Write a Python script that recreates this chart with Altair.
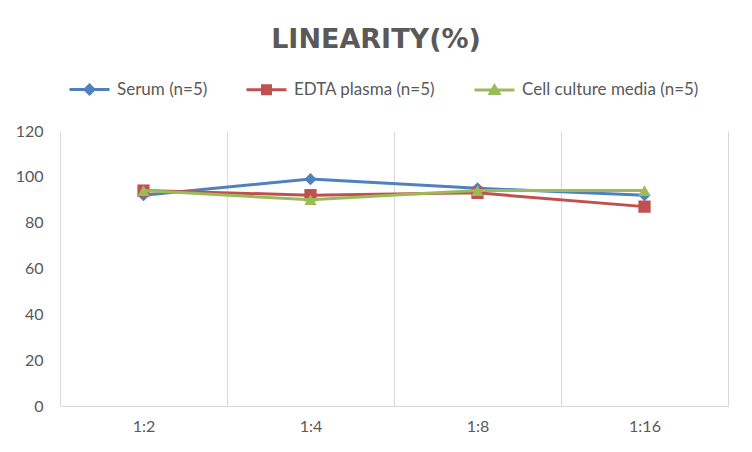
import altair as alt
import pandas as pd

cats = ["1:2", "1:4", "1:8", "1:16"]
series = ["Serum (n=5)", "EDTA plasma (n=5)", "Cell culture media (n=5)"]
serum = [92, 99, 95, 92]
edta = [94, 92, 93, 87]
cell = [94, 90, 94, 94]
colors = ["#4F81BD", "#C0504D", "#9BBB59"]
shapes = ["diamond", "square", "triangle-up"]
# legend symbols: a line segment with a (stroke-filled) marker in the middle
legend_shapes = [
    "M-1,0L1,0M0,-0.22L0.22,0L0,0.22L-0.22,0ZM0,-0.08L0.08,0L0,0.08L-0.08,0Z",
    "M-1,0L1,0M-0.2,-0.2L0.2,-0.2L0.2,0.2L-0.2,0.2ZM-0.07,-0.07L0.07,-0.07L0.07,0.07L-0.07,0.07Z",
    "M-1,0L1,0M0,-0.2L0.22,0.17L-0.22,0.17ZM0,-0.05L0.08,0.09L-0.08,0.09Z",
]

rows = []
for name, vals in zip(series, [serum, edta, cell]):
    for c, v in zip(cats, vals):
        rows.append({"dilution": c, "value": v, "series": name})
df = pd.DataFrame(rows)

FONT = "Lato"
GRAY = "#595959"

x = alt.X(
    "dilution:N", sort=cats, title=None,
    scale=alt.Scale(paddingInner=0, paddingOuter=0),
    axis=alt.Axis(labelAngle=0, ticks=False, grid=True, tickBand="extent",
                  gridColor="#d9d9d9", domainColor="#d9d9d9", labelColor=GRAY,
                  labelFontSize=16, labelPadding=12, labelFont=FONT),
)
y = alt.Y(
    "value:Q", title=None,
    scale=alt.Scale(domain=[0, 120]),
    axis=alt.Axis(values=[0, 20, 40, 60, 80, 100, 120], grid=False, domain=False,
                  ticks=False, labelPadding=17, labelFontSize=16, labelColor=GRAY,
                  labelFont=FONT),
)

color_scale = alt.Scale(domain=series, range=colors)

series_layers = []
for name, shp, col in zip(series, shapes, colors):
    sub = alt.Chart(df).transform_filter(alt.datum.series == name)
    series_layers.append(sub.mark_line(strokeWidth=3, color=col).encode(x=x, y=y))
    series_layers.append(
        sub.mark_point(filled=True, opacity=1, size=150, shape=shp, color=col)
        .encode(x=x, y=y)
    )

legend = alt.Legend(
    title=None, orient="none", legendX=8, legendY=-63, direction="horizontal",
    columns=3, columnPadding=32, labelOffset=6, symbolSize=1600, padding=0,
    symbolStrokeWidth=3, symbolOpacity=1,
    labelFont=FONT, labelFontSize=17, labelColor=GRAY, labelLimit=400,
)
legend_layer = alt.Chart(df).mark_point(
    opacity=0, strokeWidth=3, size=10, filled=False
).encode(
    x=x, y=y,
    color=alt.Color("series:N", sort=series, scale=color_scale, legend=legend),
    shape=alt.Shape("series:N", sort=series,
                    scale=alt.Scale(domain=series, range=legend_shapes), legend=legend),
)

chart = alt.layer(*series_layers, legend_layer).properties(
    width=668, height=275,
    autosize=alt.AutoSizeParams(type="none"),
    padding={"left": 52, "top": 123, "right": 16, "bottom": 38},
    title=alt.Title("LINEARITY(%)", fontSize=27, fontWeight="bold", color=GRAY,
                    font="DejaVu Sans", anchor="middle", dx=-18, offset=14),
).configure_view(stroke=None)

chart.save("out.html", embed_options={"renderer": "svg", "actions": False})
